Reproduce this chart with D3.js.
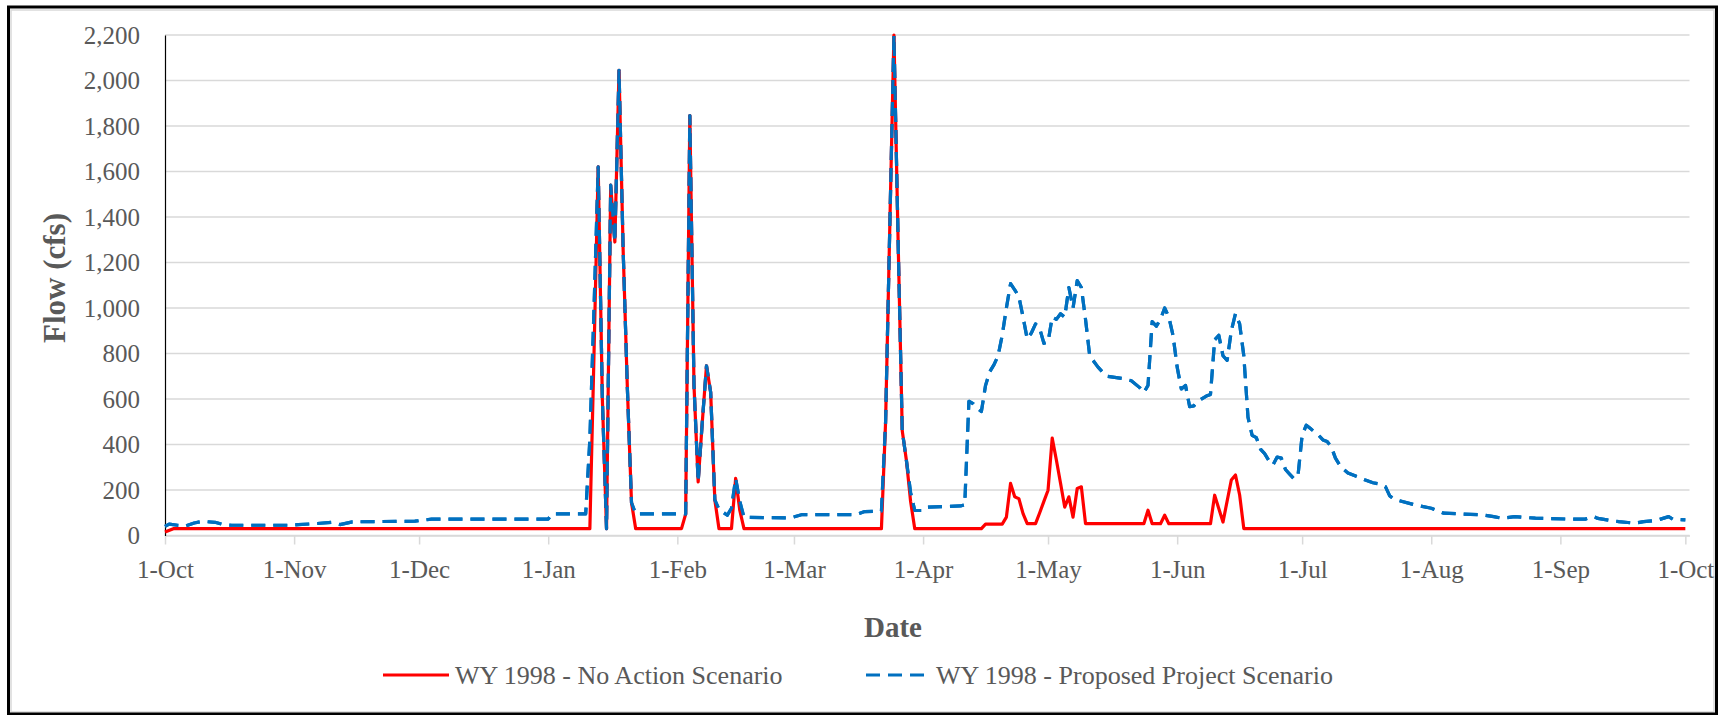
<!DOCTYPE html>
<html>
<head>
<meta charset="utf-8">
<script src="https://cdn.jsdelivr.net/npm/d3@7/dist/d3.min.js"></script>
<style>
  html, body { margin: 0; padding: 0; background: #fff; }
  svg { display: block; }
  text { font-family: "Liberation Serif", "Times New Roman", serif; fill: #595959; }
</style>
</head>
<body>
<svg id="chart" width="1728" height="715"></svg>
<script>
// ---- Data (day offset from 1-Oct-1997, flow in cfs) ----
const waterYearStart = "1997-10-01";
const seriesNames = ["WY 1998 - No Action Scenario", "WY 1998 - Proposed Project Scenario"];
const yTickValues = [0, 200, 400, 600, 800, 1000, 1200, 1400, 1600, 1800, 2000, 2200];
const xTickLabels = ["1-Oct","1-Nov","1-Dec","1-Jan","1-Feb","1-Mar","1-Apr","1-May","1-Jun","1-Jul","1-Aug","1-Sep","1-Oct"];

const noActionFlow = [
  [0,15],[2,30],[102,30],[103,800],[104,1620],[105,600],[106,30],[107,1540],[108,1290],[109,2045],
  [110,1250],[111,650],[112,144],[113,30],[124,30],[125,94],[126,1846],[127,660],[128,236],[129,500],
  [130,746],[131,630],[132,157],[133,30],[136,30],[137,251],[138,110],[139,30],[172,30],[173,500],
  [174,1350],[175,2200],[176,1300],[177,460],[178,330],[179,150],[180,30],[196,30],[197,50],[201,50],
  [202,81],[203,229],[204,170],[205,162],[206,96],[207,52],[209,52],[210,100],[211,150],[212,199],
  [213,428],[214,332],[215,230],[216,125],[217,170],[218,81],[219,207],[220,214],[221,52],[235,52],
  [236,111],[237,52],[239,52],[240,89],[241,52],[251,52],[252,177],[254,59],[256,244],[257,266],
  [258,178],[259,30],[365,30]
];

const proposedFlow = [
  [0,40],[1,50],[3,45],[5,42],[7,55],[9,62],[12,58],[14,48],[16,45],[30,45],[32,48],[36,52],[40,58],
  [42,48],[45,60],[60,63],[64,72],[92,72],[93,95],[101,95],[102,424],[103,1000],[104,1620],[105,600],
  [106,30],[107,1540],[108,1290],[109,2045],[110,1250],[111,650],[112,144],[113,95],[124,95],[125,94],
  [126,1846],[127,660],[128,236],[129,500],[130,746],[131,630],[132,157],[133,115],[135,89],[136,120],
  [137,251],[138,150],[139,80],[150,77],[153,92],[166,92],[168,105],[172,107],[173,500],[174,1350],
  [175,2200],[176,1300],[177,460],[178,330],[179,189],[180,110],[182,110],[183,125],[191,130],[192,135],
  [193,590],[194,580],[195,560],[196,545],[197,660],[198,720],[199,750],[200,790],[201,880],[202,1000],
  [203,1107],[204,1080],[205,1050],[206,960],[207,864],[208,890],[209,930],[210,910],[211,845],[212,850],
  [213,960],[214,950],[215,975],[216,960],[217,1090],[218,1000],[219,1120],[220,1090],[221,950],[222,790],
  [223,765],[224,740],[225,720],[226,700],[228,695],[230,690],[232,680],[234,650],[235,628],[236,660],
  [237,940],[238,920],[239,950],[240,1000],[241,960],[242,880],[243,740],[244,644],[245,660],[246,566],
  [247,570],[248,590],[250,613],[251,620],[252,860],[253,880],[254,790],[255,770],[256,900],[257,975],
  [258,930],[259,790],[260,520],[261,440],[262,430],[263,380],[264,360],[265,330],[266,310],[267,345],
  [268,340],[269,290],[270,270],[271,250],[272,262],[273,440],[274,485],[275,470],[276,455],[277,440],
  [278,420],[279,413],[280,390],[281,340],[282,310],[283,290],[284,275],[286,260],[288,245],[290,232],
  [292,225],[293,215],[294,175],[295,160],[296,155],[300,135],[304,120],[307,98],[316,91],[319,83],
  [321,76],[324,83],[329,76],[337,72],[341,72],[343,83],[344,75],[347,66],[349,61],[353,54],[355,61],
  [358,66],[361,83],[362,72],[365,69]
];

// ---- Layout ----
const svg = d3.select("#chart");
const W = 1728, H = 715;
const plot = { left: 165, right: 1689.5, top: 35, bottom: 535.5 };
const dash = "14,8";

const start = d3.timeParse("%Y-%m-%d")(waterYearStart);
const toDate = d => d3.timeDay.offset(start, d);

const x = d3.scaleTime()
  .domain([start, d3.timeDay.offset(start, 366)])
  .range([plot.left, plot.right]);
const y = d3.scaleLinear().domain([0, 2200]).range([plot.bottom, plot.top]);

// Background + frame
svg.append("rect").attr("x", 0).attr("y", 0).attr("width", W).attr("height", H).attr("fill", "#fff");
svg.append("rect").attr("x", 11).attr("y", 10).attr("width", 1703).attr("height", 702)
  .attr("fill", "none").attr("stroke", "#d9d9d9").attr("stroke-width", 1.5);
svg.append("rect").attr("x", 8.5).attr("y", 7).attr("width", 1708).attr("height", 707)
  .attr("fill", "none").attr("stroke", "#000").attr("stroke-width", 3);

// Gridlines
svg.append("g").selectAll("line").data(yTickValues).join("line")
  .attr("x1", plot.left).attr("x2", plot.right)
  .attr("y1", d => y(d)).attr("y2", d => y(d))
  .attr("stroke", "#d9d9d9").attr("stroke-width", 1.5);

// X axis
const xTicks = d3.timeMonth.range(start, d3.timeDay.offset(start, 366));
const xAxis = d3.axisBottom(x).tickValues(xTicks).tickSize(9).tickSizeOuter(0)
  .tickFormat((d, i) => xTickLabels[i]);
const gx = svg.append("g").attr("transform", `translate(0,${plot.bottom})`).call(xAxis);
gx.select(".domain").attr("stroke", "#d9d9d9").attr("stroke-width", 1.5);
gx.selectAll(".tick line").attr("stroke", "#d9d9d9").attr("stroke-width", 1.5);
gx.selectAll(".tick text").attr("font-size", 25).attr("fill", "#595959")
  .attr("font-family", "Liberation Serif").attr("dy", "1.22em");

// Y axis
const yAxis = d3.axisLeft(y).tickValues(yTickValues).tickSize(0).tickPadding(25)
  .tickFormat(d3.format(","));
const gy = svg.append("g").attr("transform", `translate(${plot.left},0)`).call(yAxis);
gy.select(".domain").attr("stroke", "#000").attr("stroke-width", 1.2);
gy.selectAll(".tick text").attr("font-size", 25).attr("fill", "#595959")
  .attr("font-family", "Liberation Serif");

// Lines
const line = d3.line().x(d => x(toDate(d[0]))).y(d => y(d[1]));
svg.append("path").datum(proposedFlow)
  .attr("d", line).attr("fill", "none")
  .attr("stroke", "#0070c0").attr("stroke-width", 3.2)
  .attr("stroke-dasharray", dash).attr("stroke-linejoin", "round");
svg.append("path").datum(noActionFlow)
  .attr("d", line).attr("fill", "none")
  .attr("stroke", "#ff0000").attr("stroke-width", 3.2).attr("stroke-linejoin", "round");
// dashed line drawn again on top so the blue dashes overlay the red where they coincide
svg.append("path").datum(proposedFlow)
  .attr("d", line).attr("fill", "none")
  .attr("stroke", "#0070c0").attr("stroke-width", 3.2)
  .attr("stroke-dasharray", dash).attr("stroke-linejoin", "round");

// Axis titles
svg.append("text").attr("x", 893).attr("y", 637).attr("text-anchor", "middle")
  .attr("font-size", 29).attr("font-weight", "bold").text("Date");
svg.append("text").attr("transform", "translate(65,278) rotate(-90)").attr("text-anchor", "middle")
  .attr("font-size", 31).attr("font-weight", "bold").text("Flow (cfs)");

// Legend
const legendY = 675;
const legend = svg.append("g");
legend.append("line").attr("x1", 383).attr("x2", 449).attr("y1", legendY).attr("y2", legendY)
  .attr("stroke", "#ff0000").attr("stroke-width", 3.2);
legend.append("text").attr("x", 455).attr("y", legendY + 8.5).attr("font-size", 26).text(seriesNames[0]);
legend.append("line").attr("x1", 866).attr("x2", 930).attr("y1", legendY).attr("y2", legendY)
  .attr("stroke", "#0070c0").attr("stroke-width", 3.2).attr("stroke-dasharray", dash);
legend.append("text").attr("x", 936).attr("y", legendY + 8.5).attr("font-size", 26).text(seriesNames[1]);
</script>
</body>
</html>
